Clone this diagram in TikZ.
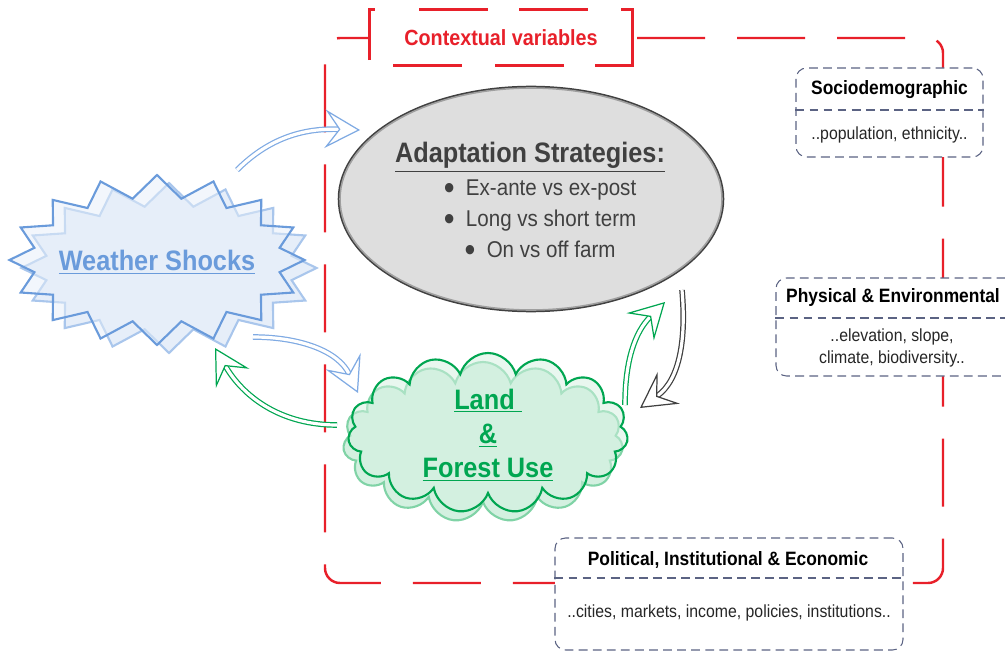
\documentclass[tikz,border=0pt]{standalone}
\usepackage{fontspec}
\setmainfont{Liberation Sans}[FakeStretch=0.9]
\usetikzlibrary{arrows.meta,shapes.symbols,shapes.geometric}
\definecolor{ctxred}{HTML}{E8202A}
\definecolor{boxgray}{HTML}{5B6383}
\definecolor{bodytext}{HTML}{262626}
\definecolor{shockblue}{HTML}{6A9BDB}
\definecolor{shocklight}{HTML}{A9C6EC}
\definecolor{shockfill}{HTML}{E6EEF9}
\definecolor{arrowblue}{HTML}{7FAAE3}
\definecolor{landgreen}{HTML}{00A651}
\definecolor{landlight}{HTML}{80D3A6}
\definecolor{landfill}{HTML}{D3F0E0}
\definecolor{adaptfill}{HTML}{DEDEDE}
\definecolor{adapttext}{HTML}{404040}
\newcommand{\bigdot}{\raisebox{-0.18em}{\scalebox{1.5}{\textbullet}}}
\tikzset{
  ctxframe/.style={draw=ctxred, line width=1.4pt, dash pattern=on 1.36cm off 0.64cm, dash phase=1.54cm, rounded corners=0.3cm},
  labelborder/.style={draw=ctxred, line width=1.4pt,
    dash pattern=on 1.12cm off 0.88cm on 1.38cm off 0.62cm on 1.38cm off 0.66cm on 2.08cm off 0.62cm on 1.38cm off 0.66cm on 1.38cm off 0.64cm},
  ctxbox/.style={draw=boxgray, line width=0.6pt, dash pattern=on 5pt off 3pt, rounded corners=6pt, fill=white},
  ctxdiv/.style={draw=boxgray, line width=0.6pt, dash pattern=on 5pt off 3pt},
  headtext/.style={font=\bfseries\fontsize{11}{13}\selectfont},
  bodytxt/.style={text=bodytext, align=center, font=\fontsize{10}{13}\selectfont},
  hollowarrow/.style={double=white, double distance=1.8pt, line width=0.7pt,
    -{Stealth[open, fill=white, length=20pt, width=22pt, inset=8pt]}},
  shockstar/.style={starburst, starburst points=16, starburst point height=0.45cm, random starburst=0,
    minimum width=5.9cm, minimum height=3.4cm, line width=1.2pt},
  landcloud/.style={cloud, cloud puffs=15, aspect=1.75, minimum width=5.6cm, minimum height=3.2cm, line width=1.2pt},
}
\begin{document}
\begin{tikzpicture}
    \useasboundingbox (0,0) rectangle (20.1,13.04);
    % contextual frame and its label
    \node[ctxframe, minimum width=12.36cm, minimum height=10.9cm] (frame) at (12.68,6.83) {};
    \node[fill=white, minimum width=5.24cm, minimum height=1.1cm, text=ctxred,
          font=\bfseries\fontsize{12.5}{15}\selectfont] (ctxlabel) at (10.02,12.29) {Contextual variables};
    \draw[labelborder] ([yshift=3pt]ctxlabel.south west) -- (ctxlabel.north west) -- (ctxlabel.north east)
        -- (ctxlabel.south east) -- (ctxlabel.south west) -- cycle;
    % context boxes
    \node[ctxbox, minimum width=3.74cm, minimum height=1.78cm] (socio) at (17.79,10.79) {};
    \node[ctxbox, minimum width=4.8cm, minimum height=1.96cm] (phys) at (17.92,6.5) {};
    \node[ctxbox, minimum width=6.96cm, minimum height=2.24cm] (poli) at (14.58,1.16) {};
    \coordinate (sociodiv) at (0,10.84); \coordinate (physdiv) at (0,6.68); \coordinate (polidiv) at (0,1.48);
    \draw[ctxdiv] (socio.west |- sociodiv) -- (socio.east |- sociodiv);
    \draw[ctxdiv] (phys.west |- physdiv) -- (phys.east |- physdiv);
    \draw[ctxdiv] (poli.west |- polidiv) -- (poli.east |- polidiv);
    \node[headtext] (sociohead) at (17.79,11.24) {Sociodemographic};
    \node[bodytxt] (sociobody) at (17.79,10.34) {..population, ethnicity..};
    \node[headtext] (physhead) at (17.86,7.08) {Physical \& Environmental};
    \node[bodytxt] (physbody) at (17.84,6.08) {..elevation, slope,\\climate, biodiversity..};
    \node[headtext] (polihead) at (14.56,1.84) {Political, Institutional \& Economic};
    \node[bodytxt] (polibody) at (14.58,0.78) {..cities, markets, income, policies, institutions..};
    % adaptation strategies
    \node[ellipse, minimum width=7.64cm, minimum height=4.44cm, fill=adaptfill, draw=gray!75, line width=0.9pt,
          preaction={draw=adapttext, line width=2.6pt}] (adapt) at (10.62,9.06) {};
    \node[text=adapttext, font=\bfseries\fontsize{16}{19}\selectfont] (adapttitle) at (10.6,9.9) {\underline{Adaptation Strategies:}};
    \node[text=adapttext, align=center, font=\fontsize{13}{17.6}\selectfont] (adaptlist) at (10.8,8.62)
        {\bigdot\hspace{0.5em}Ex-ante vs ex-post\\ \bigdot\hspace{0.5em}Long vs short term\\ \bigdot\hspace{0.5em}On vs off farm};
    % weather shocks
    \node[shockstar, draw=shocklight, fill=shockfill] (shockshadow) at (3.38,7.68) {};
    \node[shockstar, draw=shockblue, fill=shockfill, fill opacity=0.5] (shock) at (3.14,7.84) {};
    \node[text=shockblue, font=\bfseries\fontsize{16}{19}\selectfont] (shocktext) at (3.14,7.8) {\underline{Weather Shocks}};
    % land and forest use
    \node[landcloud, draw=landlight, fill=landfill] (landshadow) at (9.66,4.2) {};
    \node[landcloud, draw=landgreen, fill=landfill, fill opacity=0.5] (land) at (9.76,4.38) {};
    \node[text=landgreen, align=center, font=\bfseries\fontsize{16}{19.5}\selectfont] (landtext) at (9.76,4.34)
        {\underline{Land\ }\\ \underline{\&}\\ \underline{Forest Use}};
    % arrows
    \coordinate (shockout) at (4.74,9.64);  \coordinate (adaptin) at (7.2,10.44);
    \coordinate (shockdown) at (5.06,6.3);  \coordinate (landin) at (7.16,5.18);
    \coordinate (landout) at (6.74,4.54);   \coordinate (shockin) at (4.3,6.08);
    \coordinate (landup) at (12.5,4.94);    \coordinate (adaptup) at (13.3,7.0);
    \coordinate (adaptout) at (13.64,7.24); \coordinate (landback) at (12.8,4.88);
    \draw[hollowarrow, draw=arrowblue] (shockout) to[out=45, in=178] (adaptin);
    \draw[hollowarrow, draw=arrowblue] (shockdown) to[out=0, in=115] (landin);
    \draw[hollowarrow, draw=landgreen] (landout) to[out=180, in=-60] (shockin);
    \draw[hollowarrow, draw=landgreen] (landup) to[out=90, in=-135] (adaptup);
    \draw[hollowarrow, draw=adapttext] (adaptout) to[out=-85, in=35] (landback);
\end{tikzpicture}
\end{document}
